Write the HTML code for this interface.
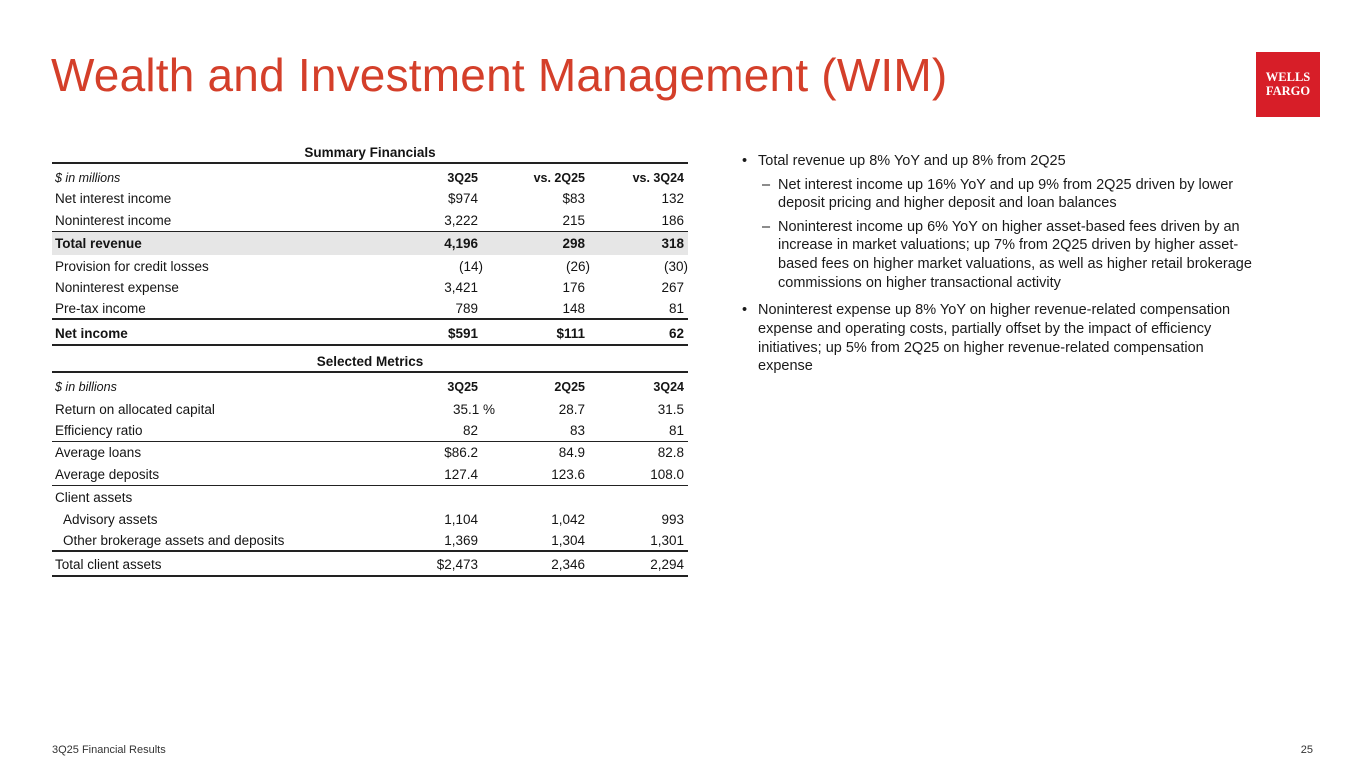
<!DOCTYPE html>
<html><head><meta charset="utf-8"><style>
*{margin:0;padding:0;box-sizing:border-box}
body{width:1365px;height:768px;background:#fff;position:relative;overflow:hidden;font-family:"Liberation Sans",sans-serif;color:#141414}
.a{position:absolute;white-space:nowrap}
h1{position:absolute;left:51px;top:48px;font-weight:normal;font-size:46px;color:#d43f2a;white-space:nowrap;letter-spacing:0.2px}
.r{position:absolute;left:52px;width:636px;height:21px}
.r span{position:absolute;top:4px;font-size:13.5px;white-space:nowrap}
.c0{left:3px}.c1{right:210px}.c2{right:103px}.c3{right:4px}
.b span{font-weight:bold}
.hd span{font-size:12.5px;top:5px}
.hd .c0{font-style:italic}
.hl{position:absolute;left:52px;width:636px;border-top:1px solid #222}
.th{border-top:2px solid #222}
.sec{position:absolute;left:52px;width:636px;text-align:center;font-weight:bold;font-size:13.5px}
.bl{position:absolute;font-size:14.5px;white-space:nowrap;color:#1a1a1a}
</style></head><body>
<h1>Wealth and Investment Management (WIM)</h1>
<div class="a" style="left:1256px;top:52px;width:64px;height:65px;background:#d71e28;color:#fff;font-family:'Liberation Serif',serif;font-weight:bold;font-size:12.5px;line-height:14px;text-align:center;padding-top:18px">WELLS<br>FARGO</div>

<div class="sec" style="top:145px">Summary Financials</div>
<div class="hl th" style="top:162px"></div>
<div class="r hd b" style="top:166px"><span class="c0" style="font-weight:normal">$ in millions</span><span class="c1">3Q25</span><span class="c2">vs. 2Q25</span><span class="c3">vs. 3Q24</span></div>
<div class="r" style="top:187px"><span class="c0">Net interest income</span><span class="c1">$974</span><span class="c2">$83</span><span class="c3">132</span></div>
<div class="r" style="top:209px"><span class="c0">Noninterest income</span><span class="c1">3,222</span><span class="c2">215</span><span class="c3">186</span></div>
<div class="hl" style="top:231px"></div>
<div class="r b" style="top:232px;height:23px;background:#e6e6e6"><span class="c0">Total revenue</span><span class="c1">4,196</span><span class="c2">298</span><span class="c3">318</span></div>
<div class="r" style="top:255px"><span class="c0">Provision for credit losses</span><span class="c1" style="right:205px">(14)</span><span class="c2" style="right:98px">(26)</span><span class="c3" style="right:0">(30)</span></div>
<div class="r" style="top:276px"><span class="c0">Noninterest expense</span><span class="c1">3,421</span><span class="c2">176</span><span class="c3">267</span></div>
<div class="r" style="top:297px"><span class="c0">Pre-tax income</span><span class="c1">789</span><span class="c2">148</span><span class="c3">81</span></div>
<div class="hl th" style="top:318px"></div>
<div class="r b" style="top:322px"><span class="c0">Net income</span><span class="c1">$591</span><span class="c2">$111</span><span class="c3">62</span></div>
<div class="hl th" style="top:344px"></div>

<div class="sec" style="top:354px">Selected Metrics</div>
<div class="hl th" style="top:371px"></div>
<div class="r hd b" style="top:375px"><span class="c0" style="font-weight:normal">$ in billions</span><span class="c1">3Q25</span><span class="c2">2Q25</span><span class="c3">3Q24</span></div>
<div class="r" style="top:398px"><span class="c0">Return on allocated capital</span><span class="c1" style="right:193px">35.1 %</span><span class="c2">28.7</span><span class="c3">31.5</span></div>
<div class="r" style="top:419px"><span class="c0">Efficiency ratio</span><span class="c1">82</span><span class="c2">83</span><span class="c3">81</span></div>
<div class="hl" style="top:441px"></div>
<div class="r" style="top:441px"><span class="c0">Average loans</span><span class="c1">$86.2</span><span class="c2">84.9</span><span class="c3">82.8</span></div>
<div class="r" style="top:463px"><span class="c0">Average deposits</span><span class="c1">127.4</span><span class="c2">123.6</span><span class="c3">108.0</span></div>
<div class="hl" style="top:485px"></div>
<div class="r" style="top:486px"><span class="c0">Client assets</span></div>
<div class="r" style="top:508px"><span class="c0" style="left:11px">Advisory assets</span><span class="c1">1,104</span><span class="c2">1,042</span><span class="c3">993</span></div>
<div class="r" style="top:529px"><span class="c0" style="left:11px">Other brokerage assets and deposits</span><span class="c1">1,369</span><span class="c2">1,304</span><span class="c3">1,301</span></div>
<div class="hl th" style="top:550px"></div>
<div class="r" style="top:553px"><span class="c0">Total client assets</span><span class="c1">$2,473</span><span class="c2">2,346</span><span class="c3">2,294</span></div>
<div class="hl th" style="top:575px"></div>

<div>
<div class="bl" style="left:742px;top:153px">•</div>
<div class="bl" style="left:758px;top:153px">Total revenue up 8% YoY and up 8% from 2Q25</div>
<div class="bl" style="left:762px;top:177px">–</div>
<div class="bl" style="left:778px;top:177px">Net interest income up 16% YoY and up 9% from 2Q25 driven by lower</div>
<div class="bl" style="left:778px;top:195px">deposit pricing and higher deposit and loan balances</div>
<div class="bl" style="left:762px;top:219px">–</div>
<div class="bl" style="left:778px;top:219px">Noninterest income up 6% YoY on higher asset-based fees driven by an</div>
<div class="bl" style="left:778px;top:237px">increase in market valuations; up 7% from 2Q25 driven by higher asset-</div>
<div class="bl" style="left:778px;top:256px">based fees on higher market valuations, as well as higher retail brokerage</div>
<div class="bl" style="left:778px;top:275px">commissions on higher transactional activity</div>
<div class="bl" style="left:742px;top:302px">•</div>
<div class="bl" style="left:758px;top:302px">Noninterest expense up 8% YoY on higher revenue-related compensation</div>
<div class="bl" style="left:758px;top:321px">expense and operating costs, partially offset by the impact of efficiency</div>
<div class="bl" style="left:758px;top:340px">initiatives; up 5% from 2Q25 on higher revenue-related compensation</div>
<div class="bl" style="left:758px;top:358px">expense</div>
</div>

<div class="a" style="left:52px;top:744px;font-size:11px;color:#333">3Q25 Financial Results</div>
<div class="a" style="right:52px;top:744px;font-size:11px;color:#333">25</div>
</body></html>
